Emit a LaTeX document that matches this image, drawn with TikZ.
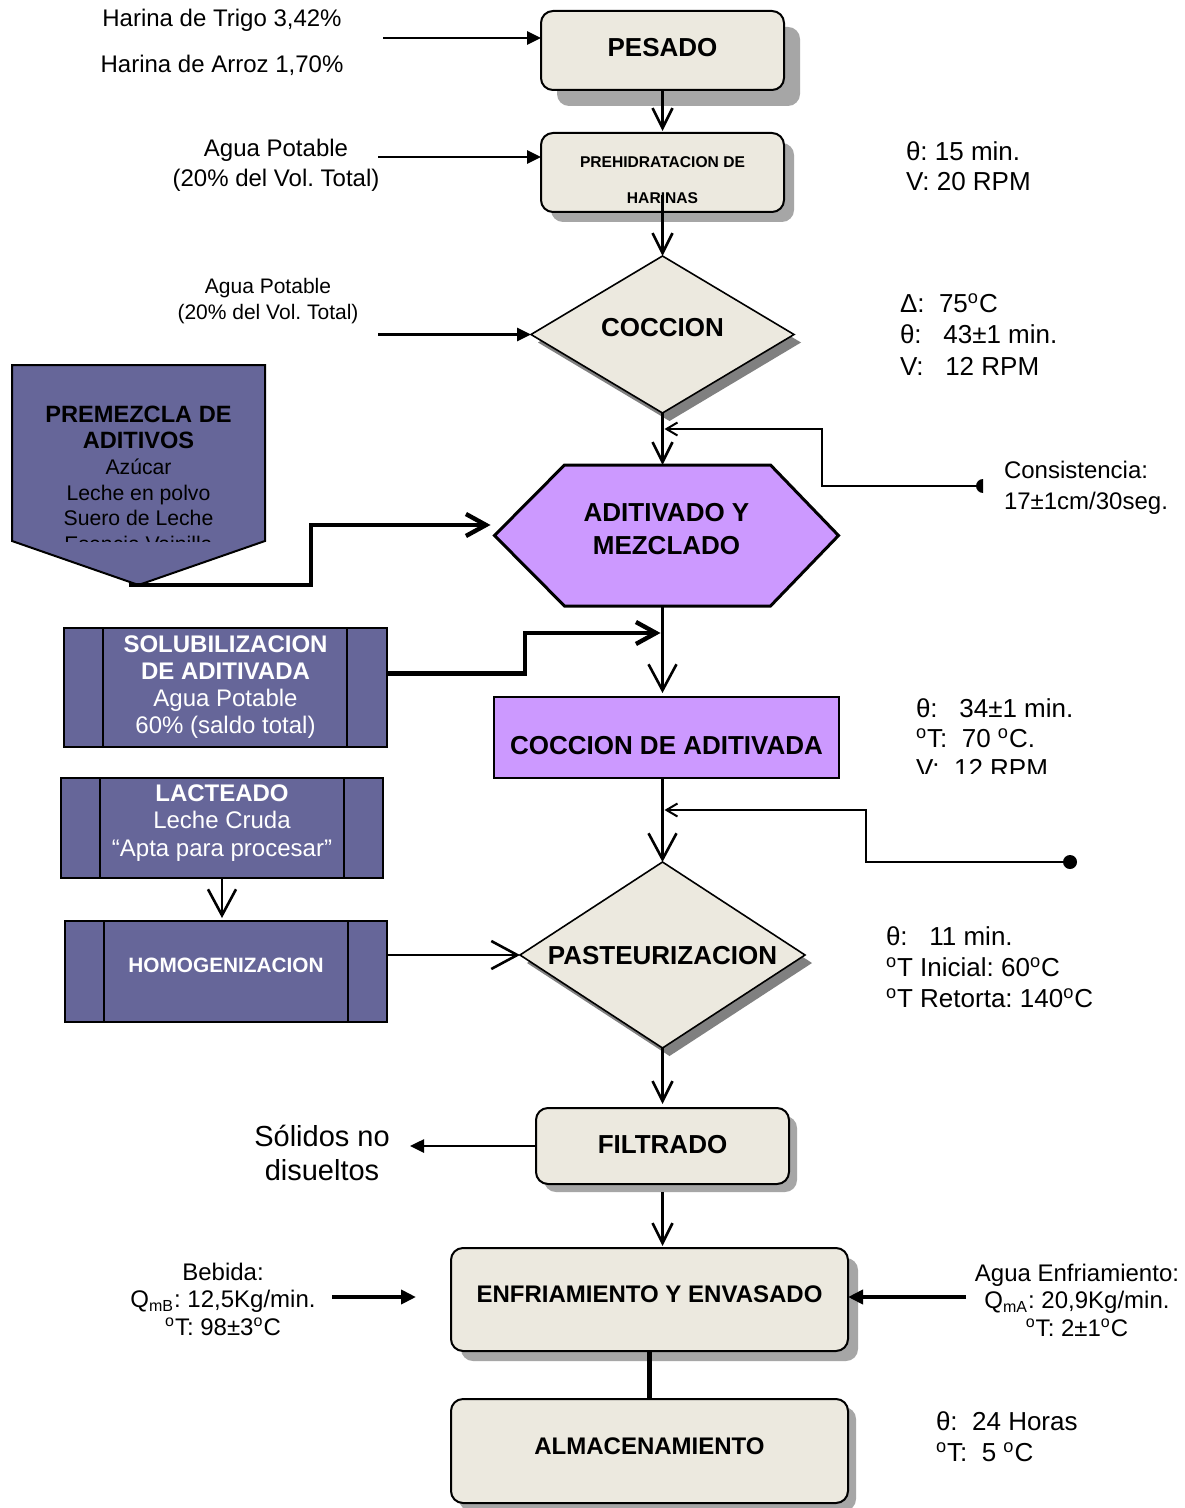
\documentclass[tikz,border=0pt]{standalone}
\usepackage{fontspec}
\setmainfont{Liberation Sans}
\usetikzlibrary{arrows.meta,shapes.geometric,shadows,calc}
\definecolor{beige}{HTML}{ECE9DF}
\definecolor{shadowgray}{HTML}{A6A6A6}
\definecolor{darkshadow}{HTML}{808080}
\definecolor{lavender}{HTML}{CC99FF}
\definecolor{slate}{HTML}{666699}
\newcommand\fs[2]{\fontsize{#1}{#2}\selectfont}
\newcommand\dg{\textsuperscript{o}}
\frenchspacing

\begin{document}
\begin{tikzpicture}[x=0.5pt,y=-0.5pt,
  every node/.style={inner sep=0pt, outer sep=0pt},
  rbox/.style={draw, line width=1pt, rounded corners=6pt, fill=beige,
    font=\bfseries\fs{13}{15}},
  shA/.style={general shadow={fill=shadowgray, shadow xshift=8pt, shadow yshift=-8pt}},
  shB/.style={general shadow={fill=shadowgray, shadow xshift=5pt, shadow yshift=-5pt}},
  shC/.style={general shadow={fill=shadowgray, shadow xshift=4pt, shadow yshift=-4pt}},
  dia/.style={diamond, aspect=2, draw, line width=0.8pt, fill=beige,
    font=\bfseries\fs{13}{15},
    general shadow={fill=darkshadow, shadow xshift=3.5pt, shadow yshift=-4pt}},
  pbox/.style={draw, line width=1pt, fill=slate, text=white},
  txt/.style={font=\fs{12}{15}, align=center},
  par/.style={anchor=west, align=left, font=\fs{13}{15.5}},
  conn/.style={line width=1.3pt},
  thinconn/.style={line width=1pt},
  heavy/.style={line width=2.2pt},
  fhead/.style={-{Triangle[length=7pt,width=6.5pt]}},
  fbig/.style={-{Triangle[length=7.5pt,width=7pt]}},
  vmid/.style={-{Straight Barb[length=10pt,width=10pt]}},
  vbig/.style={-{Straight Barb[length=13pt,width=14pt]}},
  vwide/.style={-{Straight Barb[length=10pt,width=11pt]}},
  vsmall/.style={-{Straight Barb[length=5.5pt,width=6.5pt]}}
]
\useasboundingbox (0,0) rectangle (1184,1508);
\fill[white] (0,0) rectangle (1184,1508);

\coordinate (sp) at (662.5,0);

% ---------- main column ----------
\node[rbox, shA, minimum width=121.5pt, minimum height=39.5pt,
      text height=9.4pt, text depth=3.5pt] (pesado) at (662.5,50.5) {PESADO};
\node[rbox, shB, minimum width=121.5pt, minimum height=39.5pt] (prehid) at (662.5,172.5) {};
\node[font=\bfseries\fs{7.8}{18}, align=center] (prehidtxt) at (662.5,180) {PREHIDRATACION DE\\HARINAS};

\node[dia, minimum width=131.5pt, minimum height=78.5pt,
      text height=9.4pt, text depth=7pt] (cocc) at (662.5,334.5) {COCCION};

\node[minimum width=172pt, minimum height=70.5pt] (adit) at (666.5,535.5) {};
\draw[line width=1.5pt, fill=lavender] (adit.west)
  -- ($(adit.north west)+(70,0)$) -- ($(adit.north east)+(-68,0)$)
  -- (adit.east)
  -- ($(adit.south east)+(-68,0)$) -- ($(adit.south west)+(70,0)$) -- cycle;
\node[font=\bfseries\fs{13}{16.5}, align=center] (adittxt) at (666.5,529) {ADITIVADO Y\\MEZCLADO};

\node[draw, line width=0.8pt, fill=lavender, minimum width=172.5pt, minimum height=40.5pt,
      font=\bfseries\fs{13}{15}, text height=16.9pt, text depth=0pt] (coad) at (666.5,737.5) {COCCION DE ADITIVADA};

\node[dia, minimum width=142.5pt, minimum height=93pt,
      text height=9.4pt, text depth=0pt] (past) at (662.5,955) {PASTEURIZACION};

\node[rbox, shC, minimum width=126.5pt, minimum height=38pt,
      text height=9.4pt, text depth=2pt] (filt) at (662.5,1146) {FILTRADO};
\node[rbox, shB, minimum width=198.5pt, minimum height=51.5pt, font=\bfseries\fs{12}{14},
      text height=8.6pt, text depth=5.5pt] (enfr) at (649.5,1299.5) {ENFRIAMIENTO Y ENVASADO};
\node[rbox, shC, minimum width=198.5pt, minimum height=52pt, font=\bfseries\fs{12}{14},
      text height=8.6pt, text depth=5pt] (alm) at (649.5,1451) {ALMACENAMIENTO};

% ---------- left column ----------
\node[minimum width=126.5pt, minimum height=88pt] (premez) at (138.5,453) {};
\coordinate (premtip) at ($(premez.south)+(0,44)$);
\draw[line width=1pt, fill=slate] (premez.north west) -- (premez.north east)
  -- (premez.south east) -- (premtip) -- (premez.south west) -- cycle;
\begin{scope}
  \clip (premez.north west) rectangle ($(premez.south east)+(0,0.5)$);
  \node[align=center, font=\fs{10.6}{12.9}] (premeztxt) at (138.5,479)
    {\textbf{\fs{11.8}{12.9}PREMEZCLA DE}\\\textbf{\fs{11.8}{12.9}ADITIVOS}\\Azúcar\\Leche en polvo\\Suero de Leche\\Esencia Vainilla};
\end{scope}

\node[pbox, minimum width=161.5pt, minimum height=59.5pt, align=center, font=\fs{12}{13.5}]
  (solub) at (225.5,687.5) {\textbf{SOLUBILIZACION}\\\textbf{DE ADITIVADA}\\Agua Potable\\60\% (saldo total)};
\draw[line width=1pt] ($(solub.north west)+(39,0)$) -- ($(solub.south west)+(39,0)$);
\draw[line width=1pt] ($(solub.north east)+(-40,0)$) -- ($(solub.south east)+(-40,0)$);

\node[pbox, minimum width=161pt, minimum height=50pt] (lact) at (222,828) {};
\draw[line width=1pt] ($(lact.north west)+(39,0)$) -- ($(lact.south west)+(39,0)$);
\draw[line width=1pt] ($(lact.north east)+(-39,0)$) -- ($(lact.south east)+(-39,0)$);
\node[text=white, align=center, font=\fs{12}{13.75}] (lacttxt) at (222,823)
  {\textbf{LACTEADO}\\Leche Cruda\\“Apta para procesar”};

\node[pbox, minimum width=161pt, minimum height=50.5pt, font=\bfseries\fs{10.4}{12},
      text height=7.5pt, text depth=6.5pt] (homog) at (226,971.5) {HOMOGENIZACION};
\draw[line width=1pt] ($(homog.north west)+(39,0)$) -- ($(homog.south west)+(39,0)$);
\draw[line width=1pt] ($(homog.north east)+(-39,0)$) -- ($(homog.south east)+(-39,0)$);

% ---------- inputs and notes ----------
\node[txt] (harina1) at (222,20) {Harina de Trigo 3,42\%};
\node[txt] (harina2) at (222,65) {Harina de Arroz 1,70\%};
\node[txt] (agua1) at (276,165) {Agua Potable\\(20\% del Vol. Total)};
\node[txt, font=\fs{10.5}{13}] (agua2) at (268,301) {Agua Potable\\(20\% del Vol. Total)};
\node[txt, font=\fs{14.5}{17}] (solidos) at (322,1153) {Sólidos no\\disueltos};
\node[txt, font=\fs{12}{13.75}] (bebida) at (223,1299)
  {Bebida:\\Q\textsubscript{mB}: 12,5Kg/min.\\\dg T: 98±3\dg C};
\node[txt, font=\fs{12}{13.75}] (aguaenf) at (1077,1300)
  {Agua Enfriamiento:\\Q\textsubscript{mA}: 20,9Kg/min.\\\dg T: 2±1\dg C};

\node[par, font=\fs{13}{15}] (par1) at (906,166) {θ: 15 min.\\V: 20 RPM};
\node[par, font=\fs{13}{15.75}] (par2) at (900,334.5) {Δ:~~75\dg C\\θ:~~~43±1 min.\\V:~~~12 RPM};
\node[par, font=\fs{12}{15.5}] (consist) at (1004,487.5) {Consistencia:\\17±1cm/30seg.};
\begin{scope}
  \clip (880,680) rectangle (1184,773);
  \node[par, font=\fs{13}{15}] (par3) at (916,738) {θ:~~~34±1 min.\\\dg T:~~70 \dg C.\\V:~~12 RPM};
\end{scope}
\node[par, font=\fs{13}{15.5}] (par4) at (886,967) {θ:~~~11 min.\\\dg T Inicial: 60\dg C\\\dg T Retorta: 140\dg C};
\node[par, font=\fs{13}{15.5}] (par5) at (936,1436.5) {θ:~~24 Horas\\\dg T:~~5 \dg C};

% ---------- connectors ----------
\coordinate (in1) at (383,38);
\draw[conn, fhead] (in1) -- (in1 -| pesado.west);
\draw[conn, vmid] (pesado.south -| sp) -- ($(prehid.north -| sp)+(0,-2)$);
\coordinate (in2) at (378,157);
\draw[conn, fhead] (in2) -- (in2 -| prehid.west);
\draw[conn, vmid] ($(prehid.south -| sp)+(0,-17)$) -- (cocc.north);
\coordinate (in3) at (378,334.5);
\draw[conn, fhead] (in3) -- (cocc.west);
\draw[conn, vmid] (cocc.south) -- (cocc.south |- adit.north);

\coordinate (fb1) at (980,486);
\coordinate (fb1k) at (822,429);
\draw[thinconn, vsmall] (fb1) -| (fb1k) -- ($(fb1k -| sp)+(2,0)$);
\fill ($(fb1)+(3,-7)$) arc[start angle=90, end angle=270, radius=3.5pt] -- cycle;

\coordinate (k1) at (311,525);
\draw[heavy, vwide] ($(premtip)+(-10,0)$) -| (k1) -- ($(adit.west)+(-4,-10.5)$);

\coordinate (k2) at (525,633);
\draw[heavy, vwide] ($(solub.east)+(0,-14)$) -| (k2) -- ($(k2 -| sp)+(-2,0)$);

\draw[conn, vbig] (adit.south -| sp) -- ($(coad.north -| sp)+(0,-4)$);
\draw[conn, vbig] (coad.south -| sp) -- (past.north);

\coordinate (fb2) at (1070,862);
\coordinate (fb2k) at (866,810);
\draw[thinconn, vsmall] (fb2) -| (fb2k) -- ($(fb2k -| sp)+(2,0)$);
\fill (fb2) circle[radius=3.5pt];

\draw[conn, vbig] (lact.south) -- ($(lact.south |- homog.north)+(0,-3)$);
\draw[conn, vbig] (homog.east |- past.west) -- (past.west);
\draw[conn, vmid] (past.south) -- ($(past.south |- filt.north)+(0,-4)$);
\coordinate (out1) at (410,1146);
\draw[conn, fhead] (filt.west) -- (out1);
\draw[conn, vmid] ($(filt.south -| sp)+(0,8)$) -- ($(enfr.north -| sp)+(0,-2)$);

\coordinate (b1) at (332,1297);
\coordinate (b2) at (416,1297);
\draw[heavy, fbig] (b1) -- (b2);
\coordinate (a1) at (966,1297);
\draw[heavy, fbig] (a1) -- (a1 -| enfr.east);
\draw[heavy] (enfr.south) -- (alm.north);
\end{tikzpicture}
\end{document}
